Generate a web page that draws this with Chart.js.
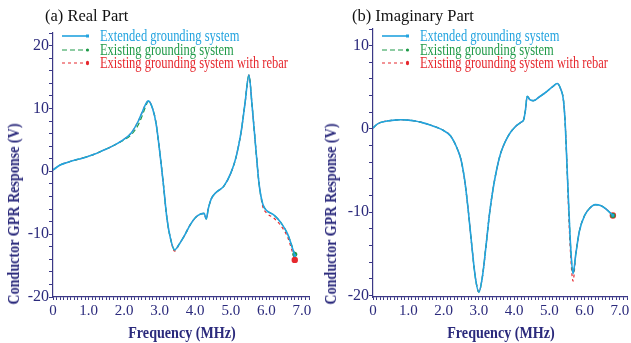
<!DOCTYPE html>
<html lang="en">
<head>
  <meta charset="UTF-8">
  <title>Conductor GPR Response</title>
  <script src="https://cdn.jsdelivr.net/npm/chart.js"></script>
  <style>
    body {
      margin: 0;
      background: #fff;
      font-family: 'Liberation Serif', 'Times New Roman', serif;
    }
    #wrap {
      position: relative;
      width: 631px;
      height: 343px;
      overflow: hidden;
    }
    canvas {
      position: absolute;
      top: 0;
    }
    .title {
      position: absolute;
      font-size: 16.5px;
      line-height: 18px;
      color: #111;
      white-space: nowrap;
    }
    .legend-row {
      position: absolute;
      height: 14px;
      white-space: nowrap;
    }
    .legend-row svg {
      position: absolute;
      left: 0;
      top: 3px;
    }
    .legend-row span {
      position: absolute;
      left: 38px;
      top: 0;
      font-size: 16px;
      line-height: 14px;
      transform: scaleX(0.78);
      transform-origin: left center;
    }
    .axis-title {
      position: absolute;
      width: 240px;
      height: 18px;
      line-height: 18px;
      text-align: center;
      font-weight: bold;
      font-size: 17px;
      color: #2b2a7c;
      white-space: nowrap;
    }
  </style>
</head>
<body>
<div id="wrap">
  <canvas id="realChart" width="316" height="343" style="left:0"></canvas>
  <canvas id="imagChart" width="315" height="343" style="left:316px"></canvas>

  <div class="title" style="left:45px;top:7px">(a) Real Part</div>
  <div class="title" style="left:352px;top:7px">(b) Imaginary Part</div>

  <div id="legendReal"></div>
  <div id="legendImag"></div>

  <div class="axis-title" style="left:62px;top:324px;transform:scaleX(0.83)">Frequency (MHz)</div>
  <div class="axis-title" style="left:381px;top:324px;transform:scaleX(0.83)">Frequency (MHz)</div>
  <div class="axis-title" style="left:-106px;top:205px;transform:rotate(-90deg) scaleX(0.83)">Conductor GPR Response (V)</div>
  <div class="axis-title" style="left:211px;top:205px;transform:rotate(-90deg) scaleX(0.83)">Conductor GPR Response (V)</div>
</div>

<script>
  // series names / colours
  const seriesNames = ['Extended grounding system', 'Existing grounding system', 'Existing grounding system with rebar'];
  const seriesColors = ['#22a3df', '#1f9a48', '#e6282e'];

  // (a) real part
  const freqReal = [0, 0.2, 0.4, 0.6, 0.8, 1.0, 1.2, 1.4, 1.6, 1.8, 2.0, 2.2, 2.4, 2.5, 2.6, 2.68, 2.8, 2.9, 3.0, 3.1,
    3.2, 3.3, 3.42, 3.55, 3.7, 3.85, 4.0, 4.15, 4.25, 4.31, 4.37, 4.45, 4.6, 4.8, 5.0, 5.15, 5.3, 5.4, 5.51, 5.6,
    5.7, 5.8, 5.9, 6.0, 6.2, 6.4, 6.6, 6.8];
  const realExtended = [0.2, 1.0, 1.4, 1.75, 2.05, 2.4, 2.8, 3.3, 3.8, 4.4, 5.1, 6.1, 8.0, 9.3, 10.6, 11.2, 10.0, 7.6, 3.2, -1.8,
    -7.3, -10.6, -12.5, -11.6, -10.2, -8.6, -7.4, -6.8, -6.7, -7.6, -5.9, -4.4, -3.3, -2.4, -0.3, 2.3, 6.6, 10.8, 15.3, 10.4,
    3.9, -2.2, -5.2, -6.2, -6.9, -8.1, -10.0, -13.4];
  const realExisting = [0.2, 1.0, 1.4, 1.75, 2.05, 2.4, 2.8, 3.3, 3.8, 4.4, 5.0, 5.8, 7.4, 8.7, 10.2, 11.1, 10.0, 7.6, 3.2, -1.8,
    -7.3, -10.6, -12.5, -11.6, -10.2, -8.6, -7.4, -6.8, -6.7, -7.6, -5.9, -4.4, -3.3, -2.4, -0.3, 2.3, 6.6, 10.8, 15.3, 10.4,
    3.9, -2.2, -5.2, -6.2, -6.9, -8.1, -10.0, -13.2];
  const realRebar = [0.2, 1.0, 1.4, 1.75, 2.05, 2.4, 2.8, 3.3, 3.8, 4.4, 5.1, 6.1, 8.0, 9.3, 10.6, 11.2, 10.0, 7.6, 3.2, -1.8,
    -7.3, -10.6, -12.7, -11.6, -10.2, -8.6, -7.4, -6.8, -6.7, -7.6, -5.9, -4.4, -3.3, -2.4, -0.3, 2.3, 6.6, 10.8, 15.3, 10.4,
    3.9, -2.2, -5.6, -6.6, -7.4, -8.6, -10.5, -14.1];

  // (b) imaginary part
  const freqImag = [0, 0.1, 0.2, 0.4, 0.6, 0.8, 1.0, 1.2, 1.4, 1.6, 1.8, 2.0, 2.2, 2.4, 2.5, 2.6, 2.7, 2.8, 2.9, 3.0,
    3.1, 3.2, 3.3, 3.4, 3.5, 3.6, 3.7, 3.8, 3.9, 4.0, 4.1, 4.2, 4.27, 4.32, 4.37, 4.45, 4.55, 4.7, 4.9, 5.1,
    5.22, 5.32, 5.4, 5.45, 5.5, 5.55, 5.6, 5.67, 5.75, 5.85, 6.0, 6.15, 6.3, 6.45, 6.6, 6.8];
  const imagExtended = [0.1, 0.5, 0.75, 0.95, 1.05, 1.1, 1.05, 0.95, 0.75, 0.5, 0.2, -0.2, -0.85, -2.5, -3.8, -6.2, -9.8, -14.0, -17.8, -19.6,
    -17.8, -14.2, -10.3, -7.3, -5.0, -3.2, -2.0, -1.1, -0.4, 0.1, 0.5, 0.8, 1.1, 2.2, 3.9, 3.5, 3.4, 3.8, 4.4, 5.1,
    5.45, 4.8, 3.4, 0.5, -4.5, -9.5, -14.0, -17.4, -15.0, -12.3, -10.4, -9.5, -9.1, -9.2, -9.6, -10.4];
  const imagExisting = [0.1, 0.5, 0.75, 0.95, 1.05, 1.1, 1.05, 0.95, 0.75, 0.5, 0.2, -0.2, -0.85, -2.5, -3.8, -6.2, -9.8, -14.0, -17.8, -19.6,
    -17.8, -14.2, -10.3, -7.3, -5.0, -3.2, -2.0, -1.1, -0.4, 0.1, 0.5, 0.8, 1.1, 2.2, 3.9, 3.5, 3.4, 3.8, 4.4, 5.1,
    5.45, 4.8, 3.4, 0.5, -4.5, -9.5, -14.0, -17.4, -15.0, -12.3, -10.4, -9.5, -9.1, -9.2, -9.6, -10.4];
  const imagRebar = [0.1, 0.5, 0.75, 0.95, 1.05, 1.1, 1.05, 0.95, 0.75, 0.5, 0.2, -0.2, -0.85, -2.5, -3.8, -6.2, -9.8, -14.0, -17.8, -19.6,
    -17.8, -14.2, -10.3, -7.3, -5.0, -3.2, -2.0, -1.1, -0.4, 0.1, 0.5, 0.8, 1.1, 2.2, 3.9, 3.5, 3.4, 3.8, 4.4, 5.1,
    5.45, 4.8, 3.4, 0.5, -4.5, -10.5, -15.0, -18.3, -15.0, -12.3, -10.4, -9.5, -9.1, -9.2, -9.6, -10.4];

  // labelled ticks
  const xTickLabels = [0, 1, 2, 3, 4, 5, 6, 7];
  const yTickLabelsReal = [-20, -10, 0, 10, 20];
  const yTickLabelsImag = [-20, -10, 0, 10];

  const navy = '#2b2a7c';
  const axisColor = '#3b3886';

  function toPoints(xs, ys) {
    return xs.map((x, i) => ({ x: x, y: ys[i] }));
  }

  function makeDataset(i, xs, ys) {
    const last = xs.length - 1;
    const dash = [[], [5, 3], [3, 3]][i];
    const endRadius = [1.8, 2.5, 3.2][i];
    return {
      label: seriesNames[i],
      data: toPoints(xs, ys),
      borderColor: seriesColors[i],
      backgroundColor: seriesColors[i],
      borderWidth: i === 0 ? 1.6 : 1.2,
      borderDash: dash,
      cubicInterpolationMode: 'monotone',
      pointStyle: i === 0 ? 'rect' : 'circle',
      pointRadius: ctx => ctx.dataIndex === last ? endRadius : 0,
      pointBorderWidth: 0,
      fill: false
    };
  }

  function near(v, list) {
    return list.some(t => Math.abs(v - t) < 1e-6);
  }

  function makeChart(id, xs, series, yMin, yMax, yLabels, yWidth, padRight, padTop) {
    new Chart(document.getElementById(id), {
      type: 'line',
      data: {
        datasets: series.map((ys, i) => makeDataset(i, xs, ys))
      },
      options: {
        responsive: false,
        animation: false,
        layout: { padding: { top: padTop, right: padRight, left: 0, bottom: 0 } },
        plugins: { legend: { display: false }, tooltip: { enabled: false } },
        scales: {
          x: {
            type: 'linear',
            min: 0,
            max: 7.2,
            afterFit: s => { s.height = 46; },
            grid: { drawOnChartArea: false, tickLength: 3, tickColor: axisColor, tickWidth: 1 },
            border: { color: axisColor, width: 1.2 },
            ticks: {
              stepSize: 0.1,
              autoSkip: false,
              maxTicksLimit: 200,
              maxRotation: 0,
              includeBounds: false,
              padding: 2,
              color: navy,
              font: { family: 'Liberation Serif', size: 15 },
              callback: v => near(v, xTickLabels) ? (Math.abs(v) < 1e-6 ? '0' : Math.round(v).toFixed(1)) : ''
            }
          },
          y: {
            min: yMin,
            max: yMax,
            afterFit: s => { s.width = yWidth; },
            grid: { drawOnChartArea: false, tickLength: 4, tickColor: axisColor, tickWidth: 1 },
            border: { color: axisColor, width: 1.2 },
            ticks: {
              stepSize: 2,
              autoSkip: false,
              includeBounds: false,
              padding: 0,
              color: navy,
              font: { family: 'Liberation Serif', size: 16 },
              callback: v => near(v, yLabels) ? String(Math.round(v)) : ''
            }
          }
        }
      }
    });
  }

  function makeLegend(id, left) {
    const holder = document.getElementById(id);
    const rowsY = [36, 49.5, 63];
    seriesNames.forEach((name, i) => {
      const row = document.createElement('div');
      row.className = 'legend-row';
      row.style.left = left + 'px';
      row.style.top = (rowsY[i] - 7) + 'px';
      const dash = ['', '5,3', '3,3'][i];
      let marker;
      if (i === 0) marker = `<rect x="24" y="2.5" width="3" height="3" fill="${seriesColors[i]}"/>`;
      else if (i === 1) marker = `<circle cx="25.5" cy="4" r="1.6" fill="${seriesColors[i]}"/>`;
      else marker = `<ellipse cx="25.5" cy="4" rx="1.6" ry="2.3" fill="${seriesColors[i]}"/>`;
      row.innerHTML = `<svg width="30" height="8"><line x1="0" y1="4" x2="25" y2="4" stroke="${seriesColors[i]}" stroke-width="${i === 0 ? 1.6 : 1.2}" stroke-dasharray="${dash}"/>${marker}</svg>` +
        `<span style="color:${seriesColors[i]}">${name}</span>`;
      holder.appendChild(row);
    });
  }

  makeChart('realChart', freqReal, [realExtended, realExisting, realRebar], -20, 22, yTickLabelsReal, 53, 7, 33);
  makeChart('imagChart', freqImag, [imagExtended, imagExisting, imagRebar], -20.2, 12, yTickLabelsImag, 57, 2, 29);

  makeLegend('legendReal', 62);
  makeLegend('legendImag', 382);
</script>
</body>
</html>
